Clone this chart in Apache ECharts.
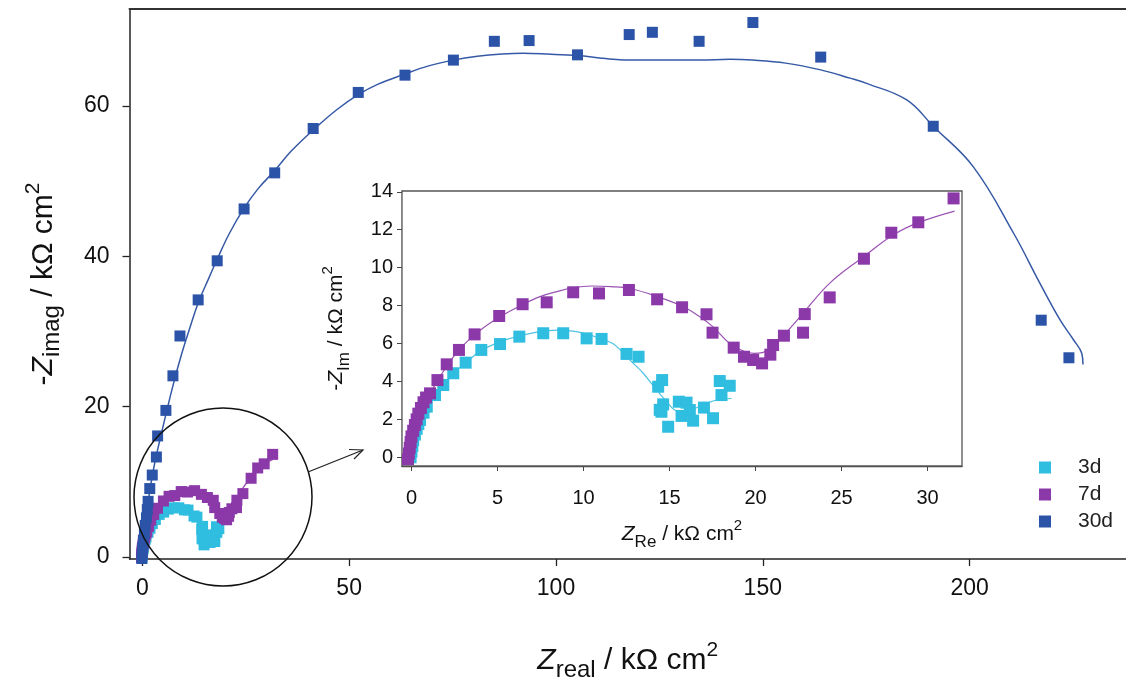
<!DOCTYPE html>
<html><head><meta charset="utf-8">
<script src="https://cdn.jsdelivr.net/npm/echarts@6/dist/echarts.min.js"></script>
<style>html,body{margin:0;padding:0;background:#fff}#c{width:1126px;height:684px}</style>
</head><body><div id="c"></div>
<script>
// ---- tick labels ----
const mainXTicks = [0, 50, 100, 150, 200];
const mainYTicks = [0, 20, 40, 60];
const insetXTicks = [0, 5, 10, 15, 20, 25, 30];
const insetYTicks = [0, 2, 4, 6, 8, 10, 12, 14];
const seriesNames = ['3d', '7d', '30d'];

// ---- measured points [Zreal, -Zimag] in kOhm cm2 ----
const d3Pts = [[-0.05,0.0],[0.0,0.3],[0.05,0.6],[0.1,0.9],[0.2,1.2],[0.3,1.5],[0.4,1.75],[0.5,1.97],[0.7,2.35],[0.89,2.67],
  [1.37,3.28],[1.85,3.81],[2.43,4.43],[3.15,4.99],[4.06,5.66],[5.15,5.97],[6.27,6.36],[7.66,6.54],[8.82,6.54],[10.18,6.27],
  [11.05,6.24],[12.5,5.45],[13.2,5.3],[14.34,3.72],[14.57,4.07],[14.63,2.79],[14.43,2.5],[14.53,2.4],[14.92,1.61],[15.54,2.93],
  [15.99,2.88],[15.7,2.18],[16.18,2.49],[16.37,1.93],[17.0,2.62],[17.53,2.06],[17.92,4.02],[18.5,3.77],[18.02,3.28]];
const d7Pts = [[-0.2,-0.1],[-0.15,0.2],[-0.1,0.5],[-0.05,0.8],[0.0,1.1],[0.1,1.4],[0.2,1.7],[0.3,2.0],[0.4,2.3],[0.55,2.6],
  [0.7,2.9],[0.85,3.15],[1.08,3.37],[1.51,4.07],[2.05,4.9],[2.76,5.66],[3.67,6.48],[5.1,7.45],[6.46,8.07],[7.86,8.17],
  [9.4,8.7],[10.9,8.64],[12.64,8.82],[14.28,8.33],[15.73,7.91],[17.15,7.54],[17.5,6.57],[18.73,5.78],[19.33,5.3],[19.86,5.13],
  [20.38,4.95],[20.86,5.41],[21.02,5.92],[21.65,6.41],[22.76,6.57],[22.86,7.55],[24.31,8.43],[26.3,10.47],[27.89,11.84],
  [29.46,12.39],[31.51,13.65]];
const d30Pts = [[-0.1,-0.2],[0.0,0.4],[0.1,1.2],[0.25,2.2],[0.5,3.1],[0.7,4.2],[1.0,5.2],[1.2,6.3],[1.4,7.4],[1.8,9.1],
  [2.4,10.9],[3.4,13.3],[3.7,16.1],[5.7,19.5],[7.4,24.1],[9.1,29.4],[13.5,34.2],[18.1,39.4],[24.6,46.3],[32.0,51.1],
  [41.3,57.0],[52.2,61.8],[63.5,64.1],[75.2,66.1],[85.1,68.6],[93.5,68.7],[105.2,66.8],[117.7,69.5],[123.3,69.8],
  [134.6,68.6],[147.6,71.1],[164.0,66.5],[191.2,57.3],[217.3,31.5],[224.0,26.5]];

// ---- fitted curves ----
const d3Fit = [[-0.1,-0.3],[0,0.5],[0.2,1.2],[0.5,2.0],[0.9,2.7],[1.4,3.3],[2.4,4.4],[3.2,5.0],[4,5.6],[5.5,6.2],[7,6.55],
  [8.5,6.7],[10,6.55],[11,6.25],[11.7,6.0],[12.2,5.6],[12.7,5.13],[13.47,4.43],[14.24,3.55],[14.83,2.93],[15.3,2.49],
  [15.8,2.4],[16.4,2.55],[16.95,2.76],[17.73,3.02],[18.6,3.1]];
const d7Fit = [[-0.1,-0.3],[0,0.5],[0.3,1.6],[0.9,3.0],[1.66,4.25],[2.76,5.66],[4,6.7],[5.15,7.41],[6.3,7.98],[7.47,8.47],
  [8.5,8.75],[9.4,8.94],[10.5,9.03],[11.6,9.0],[12.7,8.9],[14.3,8.47],[15.8,7.94],[16.7,7.45],[17.5,6.9],[18.5,6.0],
  [19.3,5.6],[19.9,5.48],[20.4,5.52],[21.2,6.0],[22,6.8],[22.76,7.59],[24.3,9.17],[26.2,10.52],[28,11.72],[29.46,12.37],[31.57,12.98]];
const d30Fit = [[0,-0.3],[0.5,3],[1.2,6.5],[2,9.5],[3,12.5],[4,15],[5.5,18.5],[7.5,23],[9.5,27],[11.5,30.5],[13.5,33.8],
  [16,37],[18.1,39.6],[21,43],[24.6,46.4],[28,49],[32,51.4],[36,54],[41.3,56.8],[47,59.5],[52.2,61.5],[57,62.9],[63.2,64.2],
  [69,65.3],[75.2,66.1],[81,66.6],[87,66.9],[92,67.0],[98,66.9],[105.2,66.7],[112,66.3],[119,66.1],[127,66.1],[135,66.1],
  [142,66.2],[147.5,66.1],[155.5,65.7],[164,64.8],[171.1,63.7],[175.1,63.0],[184.8,60.8],[191.2,57.3],[200.9,51.9],
  [210.6,43.1],[217,36.4],[221.9,31.5],[225.1,28.9],[227.1,27.1],[227.4,25.6]];

const F = '"Liberation Sans", Arial, Helvetica, sans-serif';
const C3 = '#2fbde0', C7 = '#8b38a9', C30 = '#2b53a7';
const L3 = '#4ec3e2', L7 = '#9a52b2', L30 = '#3659a6';

function nameRich(big, sub, sup) {
  return {
    i: {fontSize: big, fontStyle: 'italic', fontFamily: F, color: '#111', lineHeight: big + 12, verticalAlign: 'middle'},
    n: {fontSize: big, fontFamily: F, color: '#111', lineHeight: big + 12, verticalAlign: 'middle'},
    sub: {fontSize: sub, fontFamily: F, color: '#111', verticalAlign: 'bottom'},
    sup: {fontSize: sup, fontFamily: F, color: '#111', verticalAlign: 'top'}
  };
}

const chart = echarts.init(document.getElementById('c'), null, {renderer: 'canvas'});
const axisLine = {show: true, onZero: false, lineStyle: {color: '#222', width: 1.5}};
const insetLine = {show: true, onZero: false, lineStyle: {color: '#444', width: 1.3}};

const option = {
  animation: false,
  backgroundColor: '#fff',
  textStyle: {fontFamily: F},
  grid: [
    {left: 129.5, top: 9, right: 0, height: 550, containLabel: false, outerBoundsMode: 'none'},
    {left: 402, top: 191, width: 560, height: 275, show: true, backgroundColor: '#fff', borderColor: '#555', borderWidth: 1.3, z: 5,
      containLabel: false, outerBoundsMode: 'none'}
  ],
  legend: {
    orient: 'vertical', left: 1034, top: 452, itemWidth: 12, itemHeight: 12, itemGap: 6,
    icon: 'rect', data: seriesNames,
    textStyle: {fontSize: 21, color: '#222', fontFamily: F, padding: [0, 0, 0, 22]}
  },
  xAxis: [
    {type: 'value', gridIndex: 0, min: -3.1, max: 237.8, position: 'bottom',
      axisLine: axisLine, splitLine: {show: false},
      axisTick: {show: true, length: 7, lineStyle: {color: '#222', width: 1.3}, customValues: mainXTicks},
      axisLabel: {fontSize: 23, color: '#111', margin: 18, customValues: mainXTicks},
      name: '{i|Z}{sub|real}{n| / kΩ cm}{sup|2}', nameLocation: 'middle', nameGap: 81,
      nameTextStyle: {rich: nameRich(30, 24, 21)}},
    {type: 'value', gridIndex: 0, min: -3.1, max: 237.8, position: 'top',
      axisLine: {show: true, onZero: false, lineStyle: {color: '#333', width: 2}}, axisTick: {show: false},
      axisLabel: {show: false}, splitLine: {show: false}},
    {type: 'value', gridIndex: 1, min: -0.55, max: 32, position: 'bottom',
      axisLine: insetLine, splitLine: {show: false},
      axisTick: {show: true, length: 5, lineStyle: {color: '#444'}, customValues: insetXTicks},
      axisLabel: {fontSize: 20, color: '#111', margin: 22, customValues: insetXTicks},
      name: '{i|Z}{sub|Re}{n| / kΩ cm}{sup|2}', nameLocation: 'middle', nameGap: 52,
      nameTextStyle: {rich: nameRich(21, 17, 15)}}
  ],
  yAxis: [
    {type: 'value', gridIndex: 0, min: -0.27, max: 72.9,
      axisLine: axisLine, splitLine: {show: false},
      axisTick: {show: true, length: 7, lineStyle: {color: '#222', width: 1.3}, customValues: mainYTicks},
      axisLabel: {fontSize: 23, color: '#111', margin: 20, customValues: mainYTicks},
      name: '{n|-}{i|Z}{sub|imag}{n| / kΩ cm}{sup|2}', nameLocation: 'middle', nameGap: 65,
      nameTextStyle: {rich: nameRich(30, 24, 21)}},
    {type: 'value', gridIndex: 1, min: -0.46, max: 14.04,
      axisLine: insetLine, splitLine: {show: false},
      axisTick: {show: true, length: 5, lineStyle: {color: '#444'}, customValues: insetYTicks},
      axisLabel: {fontSize: 20, color: '#111', margin: 9, customValues: insetYTicks},
      name: '{n|-}{i|Z}{sub|Im}{n| / kΩ cm}{sup|2}', nameLocation: 'middle', nameGap: 49,
      nameTextStyle: {rich: nameRich(21, 17, 15)}}
  ],
  series: [
    // main plot
    {name: '3d', type: 'line', xAxisIndex: 0, yAxisIndex: 0, data: d3Fit, showSymbol: false, smooth: 0.4,
      lineStyle: {color: L3, width: 1.3}, itemStyle: {color: C3}, z: 2},
    {name: '7d', type: 'line', xAxisIndex: 0, yAxisIndex: 0, data: d7Fit, showSymbol: false, smooth: 0.4,
      lineStyle: {color: L7, width: 1.3}, itemStyle: {color: C7}, z: 2},
    {name: '3d', type: 'scatter', xAxisIndex: 0, yAxisIndex: 0, data: d3Pts, symbol: 'rect', symbolSize: 11,
      itemStyle: {color: C3, opacity: 1}, z: 3},
    {name: '7d', type: 'scatter', xAxisIndex: 0, yAxisIndex: 0, data: d7Pts, symbol: 'rect', symbolSize: 11,
      itemStyle: {color: C7, opacity: 1}, z: 3},
    {name: '30d', type: 'line', xAxisIndex: 0, yAxisIndex: 0, data: d30Fit, showSymbol: false, smooth: 0.4,
      lineStyle: {color: L30, width: 1.5}, itemStyle: {color: C30}, z: 3},
    {name: '30d', type: 'scatter', xAxisIndex: 0, yAxisIndex: 0, data: d30Pts, symbol: 'rect', symbolSize: 11,
      itemStyle: {color: C30, opacity: 1}, z: 4},
    // inset
    {name: '3d', type: 'line', xAxisIndex: 2, yAxisIndex: 1, data: d3Fit, showSymbol: false, smooth: 0.4,
      lineStyle: {color: L3, width: 1.2}, itemStyle: {color: C3}, z: 6},
    {name: '7d', type: 'line', xAxisIndex: 2, yAxisIndex: 1, data: d7Fit, showSymbol: false, smooth: 0.4,
      lineStyle: {color: L7, width: 1.2}, itemStyle: {color: C7}, z: 6},
    {name: '3d', type: 'scatter', xAxisIndex: 2, yAxisIndex: 1, data: d3Pts, symbol: 'rect', symbolSize: 12,
      itemStyle: {color: C3, opacity: 1}, z: 7},
    {name: '7d', type: 'scatter', xAxisIndex: 2, yAxisIndex: 1, data: d7Pts, symbol: 'rect', symbolSize: 12,
      itemStyle: {color: C7, opacity: 1}, z: 8}
  ],
  graphic: [
    {type: 'circle', shape: {cx: 223, cy: 497, r: 89}, style: {fill: null, stroke: '#111', lineWidth: 1.5}, z: 50, silent: true},
    {type: 'line', shape: {x1: 308, y1: 472, x2: 363, y2: 450}, style: {stroke: '#222', lineWidth: 1.2}, z: 50, silent: true},
    {type: 'polyline', shape: {points: [[349, 449.5], [363, 450], [354, 459]]}, style: {fill: null, stroke: '#222', lineWidth: 1.2}, z: 50, silent: true}
  ]
};
chart.setOption(option);
</script></body></html>
